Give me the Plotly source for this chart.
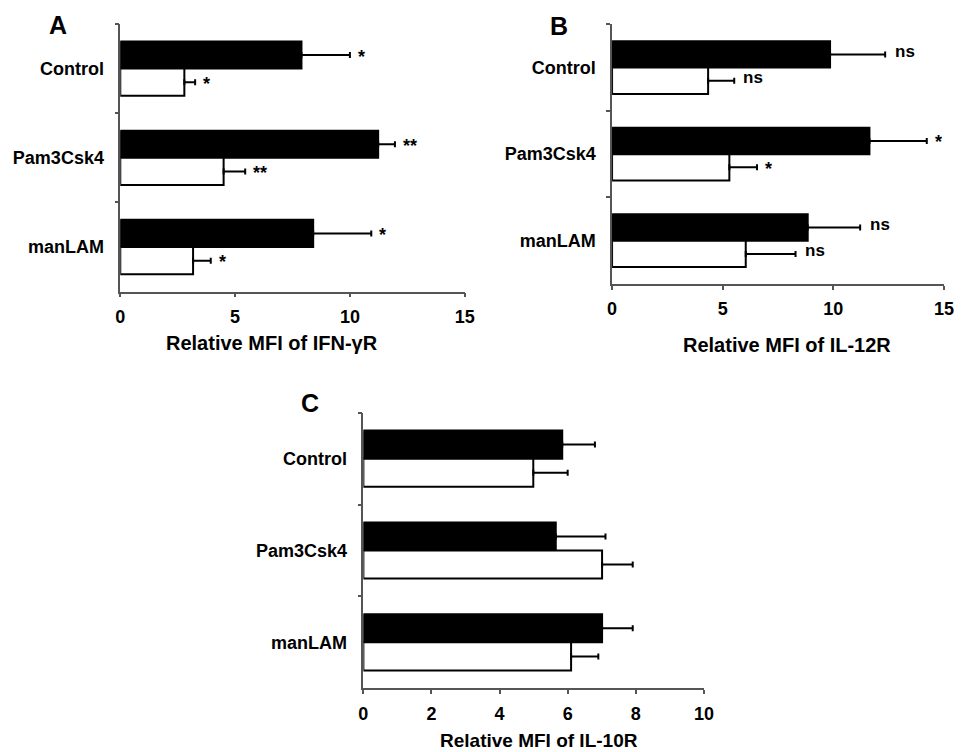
import plotly.graph_objects as go

categories = ["Control", "Pam3Csk4", "manLAM"]

# Panel A: IFN-gammaR
a_black = [7.89, 11.23, 8.40]
a_black_err = [2.11, 0.73, 2.53]
a_white = [2.79, 4.50, 3.17]
a_white_err = [0.47, 0.94, 0.77]
a_black_sig = ["*", "**", "*"]
a_white_sig = ["*", "**", "*"]

# Panel B: IL-12R
b_black = [9.85, 11.63, 8.84]
b_black_err = [2.49, 2.59, 2.37]
b_white = [4.34, 5.30, 6.04]
b_white_err = [1.18, 1.25, 2.25]
b_black_sig = ["ns", "*", "ns"]
b_white_sig = ["ns", "*", "ns"]

# Panel C: IL-10R
c_black = [5.84, 5.65, 7.01]
c_black_err = [0.96, 1.46, 0.90]
c_white = [4.99, 7.01, 6.10]
c_white_err = [1.01, 0.90, 0.80]

x_titles = ["Relative MFI of IFN-γR", "Relative MFI of IL-12R", "Relative MFI of IL-10R"]
panel_letters = ["A", "B", "C"]

FONT = "Liberation Sans, Arial, sans-serif"
OFF = 8  # default page body margin
W, H = 964 - 2 * OFF, 752 - OFF


def px(x):
    return (x - OFF) / W


def py(y):
    return 1 - (y - OFF) / H


fig = go.Figure()

panels = [
    dict(xa="x", ya="y", black=a_black, berr=a_black_err, white=a_white, werr=a_white_err,
         bsig=a_black_sig, wsig=a_white_sig, xr=[0, 15], dt=5,
         dom_x=[px(117), px(467)], dom_y=[py(291.7), py(24)]),
    dict(xa="x2", ya="y2", black=b_black, berr=b_black_err, white=b_white, werr=b_white_err,
         bsig=b_black_sig, wsig=b_white_sig, xr=[0, 15], dt=5,
         dom_x=[px(616.7), px(954)], dom_y=[py(284), py(24.3)]),
    dict(xa="x3", ya="y3", black=c_black, berr=c_black_err, white=c_white, werr=c_white_err,
         bsig=None, wsig=None, xr=[0, 10], dt=2,
         dom_x=[px(364), px(710)], dom_y=[py(688.3), py(412.7)]),
]

annotations = []
for i, p in enumerate(panels):
    fig.add_trace(go.Bar(
        y=categories, x=p["black"], orientation="h", xaxis=p["xa"], yaxis=p["ya"],
        marker=dict(color="black", line=dict(color="black", width=2)),
        error_x=dict(type="data", symmetric=False, array=p["berr"], arrayminus=[0] * 3,
                     color="black", thickness=2, width=3),
        showlegend=False, name="filled"))
    fig.add_trace(go.Bar(
        y=categories, x=p["white"], orientation="h", xaxis=p["xa"], yaxis=p["ya"],
        marker=dict(color="white", line=dict(color="black", width=2)),
        error_x=dict(type="data", symmetric=False, array=p["werr"], arrayminus=[0] * 3,
                     color="black", thickness=2, width=3),
        showlegend=False, name="open"))
    if p["bsig"]:
        for cat, v, e, s in zip(categories, p["black"], p["berr"], p["bsig"]):
            annotations.append(dict(x=v + e, y=cat, xref=p["xa"], yref=p["ya"], text=s,
                                    showarrow=False, xanchor="left", yanchor="middle",
                                    xshift=6 if s != "ns" else 8, yshift=12 if s != "ns" else 16,
                                    font=dict(family=FONT, size=18 if s != "ns" else 17, color="black")))
        for cat, v, e, s in zip(categories, p["white"], p["werr"], p["wsig"]):
            annotations.append(dict(x=v + e, y=cat, xref=p["xa"], yref=p["ya"], text=s,
                                    showarrow=False, xanchor="left", yanchor="middle",
                                    xshift=6 if s != "ns" else 7, yshift=-15 if s != "ns" else -10,
                                    font=dict(family=FONT, size=18 if s != "ns" else 17, color="black")))

    axis_common = dict(showgrid=False, zeroline=False, showline=True, linecolor="#555",
                       linewidth=1.5, ticks="outside", tickcolor="#555", ticklen=4, tickwidth=1.5)
    xkey = "xaxis" if i == 0 else f"xaxis{i + 1}"
    ykey = "yaxis" if i == 0 else f"yaxis{i + 1}"
    fig.update_layout(**{
        xkey: dict(domain=p["dom_x"], range=p["xr"], dtick=p["dt"], anchor=p["ya"],
                   tickfont=dict(family=FONT, size=18, color="black"),
                   ticklabelstandoff=4, **axis_common),
        ykey: dict(domain=p["dom_y"], anchor=p["xa"], type="category",
                   categoryorder="array", categoryarray=categories, autorange="reversed",
                   tickson="boundaries", ticklabelstandoff=11,
                   tickfont=dict(family=FONT, size=18, color="black"), **axis_common),
    })

title_pos = [(271, 343), (794, 345), (542, 740)]
title_size = [20, 20, 19]
for t, (cx, cy), fs in zip(x_titles, title_pos, title_size):
    annotations.append(dict(x=px(cx), y=py(cy), xref="paper", yref="paper", text=f"<b>{t}</b>",
                            showarrow=False, xanchor="center", yanchor="middle", borderpad=0,
                            font=dict(family=FONT, size=fs, color="black")))

letter_pos = [(54, 25), (563, 26), (310, 403)]
for t, (cx, cy) in zip(panel_letters, letter_pos):
    annotations.append(dict(x=px(cx), y=py(cy), xref="paper", yref="paper", text=f"<b>{t}</b>",
                            showarrow=False, xanchor="center", yanchor="middle",
                            font=dict(family=FONT, size=25, color="black")))

fig.update_layout(
    width=W, height=H, margin=dict(l=0, r=0, t=0, b=0),
    paper_bgcolor="white", plot_bgcolor="white",
    barmode="group", bargap=0.39, bargroupgap=0,
    font=dict(family=FONT, size=18, color="black", weight="bold"),
    annotations=annotations,
)

fig.write_html("out.html")
